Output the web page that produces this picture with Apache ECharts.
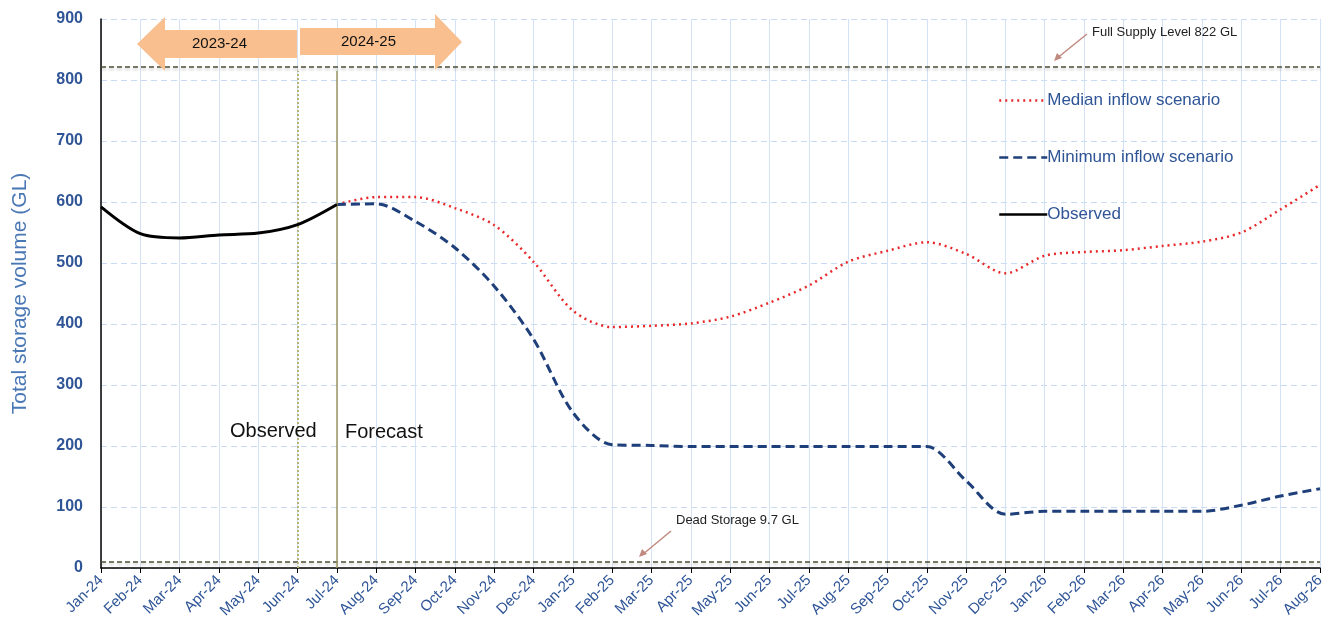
<!DOCTYPE html>
<html>
<head>
<meta charset="utf-8">
<script src="https://cdn.jsdelivr.net/npm/echarts@6/dist/echarts.min.js"></script>
<style>
  html, body { margin: 0; padding: 0; background: #fff; }
  #main { width: 1334px; height: 639px; }
</style>
</head>
<body>
<div id="main"></div>
<script>
  var months = ['Jan-24','Feb-24','Mar-24','Apr-24','May-24','Jun-24','Jul-24','Aug-24','Sep-24','Oct-24','Nov-24','Dec-24',
    'Jan-25','Feb-25','Mar-25','Apr-25','May-25','Jun-25','Jul-25','Aug-25','Sep-25','Oct-25','Nov-25','Dec-25',
    'Jan-26','Feb-26','Mar-26','Apr-26','May-26','Jun-26','Jul-26','Aug-26'];

  var observed = [592, 548, 541, 546, 549, 563, 596];
  var median = [null, null, null, null, null, null, 596, 608, 608, 590, 562, 502,
    422, 395, 397, 401, 412, 435, 463, 502, 520, 534, 515, 483,
    512, 518, 521, 528, 535, 550, 588, 628];
  var minimum = [null, null, null, null, null, null, 596, 597, 568, 525, 462, 375,
    255, 202, 201, 199, 199, 199, 199, 199, 199, 199, 143, 88,
    93, 93, 93, 93, 93, 103, 118, 130];

  var fullSupply = 822;
  var deadStorage = 9.7;

  var chart = echarts.init(document.getElementById('main'));
  var blue = '#2f5597';
  var font = 'Arial, Liberation Sans, sans-serif';
  var refLine = { color: '#4d4d36', type: [5, 3], width: 1.5, shadowColor: 'rgba(0,0,0,0.25)', shadowBlur: 3, shadowOffsetY: 2 };

  var option = {
    animation: false,
    backgroundColor: '#fff',
    grid: { left: 101, right: 14, top: 19, bottom: 71 },
    legend: {
      orient: 'vertical',
      left: 993,
      top: 87,
      itemGap: 40,
      itemWidth: 48,
      itemHeight: 17,
      itemStyle: { opacity: 0 },
      lineStyle: { width: 2.5 },
      textStyle: { color: blue, fontSize: 17, fontFamily: font, padding: [0, 0, 0, -5] },
      data: ['Median inflow scenario', 'Minimum inflow scenario', 'Observed']
    },
    xAxis: {
      type: 'category',
      data: months,
      boundaryGap: false,
      axisLine: { lineStyle: { color: '#000', width: 1.5 } },
      axisTick: { show: true, alignWithLabel: true, lineStyle: { color: '#000' } },
      axisLabel: { rotate: 45, color: blue, fontSize: 15, fontFamily: font, interval: 0, margin: 10 },
      splitLine: { show: true, lineStyle: { color: '#d3e2f4', width: 1 } }
    },
    yAxis: {
      type: 'value',
      min: 0, max: 900, interval: 100,
      name: 'Total storage volume (GL)',
      nameLocation: 'middle',
      nameGap: 70,
      nameTextStyle: { color: '#4a78b5', fontSize: 21, fontFamily: font },
      axisLine: { show: true, lineStyle: { color: '#000', width: 1.5 } },
      axisTick: { show: false },
      axisLabel: { color: blue, fontSize: 16, fontWeight: 'bold', fontFamily: font, margin: 18 },
      splitLine: { show: true, lineStyle: { color: '#c9dbf2', type: [6, 4], width: 1 } }
    },
    series: [
      {
        name: 'Median inflow scenario',
        type: 'line',
        data: median,
        smooth: 0.3,
        symbol: 'none',
        itemStyle: { color: '#e8292b' },
        lineStyle: { color: '#e8292b', type: [2, 4], width: 2.5 },
        z: 3
      },
      {
        name: 'Minimum inflow scenario',
        type: 'line',
        data: minimum,
        smooth: 0.3,
        symbol: 'none',
        itemStyle: { color: '#1f3f7a' },
        lineStyle: { color: '#1f3f7a', type: [9, 5], width: 3 },
        z: 4
      },
      {
        name: 'Observed',
        type: 'line',
        data: observed,
        smooth: 0.3,
        symbol: 'none',
        itemStyle: { color: '#000' },
        lineStyle: { color: '#000', width: 3 },
        z: 5,
        markLine: {
          silent: true,
          symbol: 'none',
          label: { show: false },
          data: [
            { yAxis: fullSupply, lineStyle: refLine },
            { yAxis: deadStorage, lineStyle: refLine },
            [{ coord: ['Jun-24', 0], lineStyle: { color: '#b8b47a', type: [2, 2], width: 2 } }, { coord: ['Jun-24', 815] }],
            [{ coord: ['Jul-24', 0], lineStyle: { color: '#9c9660', type: 'solid', width: 1.5 } }, { coord: ['Jul-24', 815] }]
          ]
        }
      }
    ],
    graphic: [
      {
        type: 'polygon', z: 100,
        shape: { points: [[137, 44], [165, 17], [165, 30], [297, 30], [297, 58], [165, 58], [165, 71]] },
        style: { fill: '#f9bf8f' }
      },
      {
        type: 'polygon', z: 100,
        shape: { points: [[300, 28], [435, 28], [435, 14], [462, 42], [435, 70], [435, 55], [300, 55]] },
        style: { fill: '#f9bf8f' }
      },
      { type: 'text', z: 101, left: 192, top: 36, style: { text: '2023-24', fill: '#111', font: '15px ' + font } },
      { type: 'text', z: 101, left: 341, top: 34, style: { text: '2024-25', fill: '#111', font: '15px ' + font } },
      { type: 'text', z: 101, left: 1092, top: 26, style: { text: 'Full Supply Level 822 GL', fill: '#222', font: '13px ' + font } },
      { type: 'line', z: 101, shape: { x1: 1087, y1: 34, x2: 1056, y2: 59 }, style: { stroke: '#c08a80', lineWidth: 1.5 } },
      { type: 'polygon', z: 101, shape: { points: [[1054, 61], [1057, 53], [1062, 58]] }, style: { fill: '#c08a80' } },
      { type: 'text', z: 101, left: 676, top: 514, style: { text: 'Dead Storage 9.7 GL', fill: '#222', font: '13px ' + font } },
      { type: 'line', z: 101, shape: { x1: 671, y1: 531, x2: 642, y2: 555 }, style: { stroke: '#c08a80', lineWidth: 1.5 } },
      { type: 'polygon', z: 101, shape: { points: [[639, 557], [642, 549], [647, 554]] }, style: { fill: '#c08a80' } },
      { type: 'text', z: 101, left: 230, top: 421, style: { text: 'Observed', fill: '#111', font: '20px ' + font } },
      { type: 'text', z: 101, left: 345, top: 422, style: { text: 'Forecast', fill: '#111', font: '20px ' + font } }
    ]
  };

  chart.setOption(option);
</script>
</body>
</html>
